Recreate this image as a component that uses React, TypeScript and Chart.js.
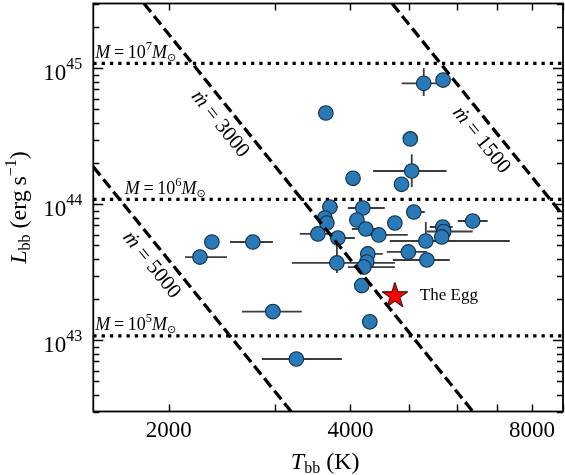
import React, { useEffect, useRef } from 'react';
import { Chart, registerables } from 'chart.js';

Chart.register(...registerables);

// ---------------- data ----------------
const tempK = [
  5291, 5696, 3642, 5026, 5054, 4861, 4040, 3699, 4194, 5094,
  3628, 3656, 4100, 4739, 6377, 5689, 5710, 5667, 5333, 4242,
  3533, 4458, 3813, 3799, 4274, 4258, 4210, 4178, 4307, 4989,
  5354, 2358, 2757, 2253, 2976, 3254,
];
const lumErg = [
  7.77e44, 8.21e44, 4.70e44, 3.03e44, 1.76e44, 1.405e44, 1.555e44, 9.57e43, 9.41e43, 8.79e43,
  7.94e43, 7.30e43, 7.68e43, 7.30e43, 7.55e43, 6.82e43, 6.32e43, 5.76e43, 5.38e43, 6.59e43,
  6.06e43, 5.96e43, 5.66e43, 3.71e43, 4.32e43, 3.77e43, 3.46e43, 2.53e43, 1.37e43, 4.47e43,
  3.90e43, 5.29e43, 5.29e43, 4.10e43, 1.63e43, 7.30e42,
];
const tempLow: (number | null)[] = [
  4861, null, null, null, 4362, null, null, 3601, 3961, 4960,
  null, null, null, null, 6025, 5414, 5354, null, 4649, 4022,
  3298, 4226, 3699, 3199, 4178, null, 3961, null, null, 4596,
  4702, null, 2526, 2128, 2644, 2853,
];
const tempHigh: (number | null)[] = [
  5754, null, null, null, 5770, null, null, 3813, 4560, 5313,
  null, null, null, null, 6753, 5909, 6377, null, 7345, 4400,
  3771, 4979, 4069, 4739, 4525, null, 4739, null, null, 5354,
  5843, null, 2976, 2497, 3323, 3872,
];
const lumLow: (number | null)[] = [
  6.27e44, null, null, null, 1.34e44, null, null, null, null, null,
  null, null, null, null, null, null, null, null, 4.78e43, null,
  null, null, null, 3.13e43, null, null, null, null, null, null,
  null, null, null, null, null, null,
];
const lumHigh: (number | null)[] = [
  1.007e45, null, null, null, 2.34e44, null, null, null, null, null,
  null, null, null, null, null, null, null, null, 7.42e43, null,
  null, null, null, 5.33e43, null, null, null, null, null, null,
  null, null, null, null, null, null,
];

const eggTemp = [4739];
const eggLum = [2.16e43];
const eggName = 'The Egg';

const massLevels = [1.09e45, 1.09e44, 1.08e43];
const massExponents = ['7', '6', '5'];

const mdotNames = ['3000', '1500', '5000'];
const mdotTemp = [[1820, 6380], [4690, 9000], [1500, 3190]];
const mdotLum = [[3e45, 3e42], [3e45, 8.3e43], [1.89e44, 3e42]];

const xMin = 1500;
const xMax = 9000;
const yMin = 3e42;
const yMax = 3e45;
const xTickValues = [2000, 3000, 4000, 5000, 6000, 7000, 8000, 9000];
const xTickLabels = [2000, 4000, 8000];
const yMajorExponents = [43, 44, 45];

// ---------------- styling helpers ----------------
const SERIF = "'Liberation Serif','Times New Roman','DejaVu Serif',serif";
type Run = { t: string; size: number; italic?: boolean; dy?: number; font?: string };

function setFont(ctx: CanvasRenderingContext2D, r: Run) {
  ctx.font = `${r.italic ? 'italic ' : ''}${r.size}px ${r.font || SERIF}`;
}
function runsWidth(ctx: CanvasRenderingContext2D, runs: Run[]) {
  let w = 0;
  for (const r of runs) {
    setFont(ctx, r);
    w += ctx.measureText(r.t).width;
  }
  return w;
}
function drawRuns(ctx: CanvasRenderingContext2D, runs: Run[], x: number, y: number, align: 'left' | 'center' | 'right') {
  const w = runsWidth(ctx, runs);
  let cx = align === 'left' ? x : align === 'center' ? x - w / 2 : x - w;
  ctx.textAlign = 'left';
  ctx.textBaseline = 'alphabetic';
  for (const r of runs) {
    setFont(ctx, r);
    ctx.fillText(r.t, cx, y + (r.dy || 0));
    cx += ctx.measureText(r.t).width;
  }
}

function makeStar(): HTMLCanvasElement {
  const c = document.createElement('canvas');
  const s = 30;
  c.width = s;
  c.height = s;
  const g = c.getContext('2d')!;
  const R = 13.5;
  const r = R * 0.382;
  g.beginPath();
  for (let i = 0; i < 10; i++) {
    const rad = i % 2 === 0 ? R : r;
    const a = -Math.PI / 2 + (i * Math.PI) / 5;
    const px = s / 2 + rad * Math.cos(a);
    const py = s / 2 + 1 + rad * Math.sin(a);
    if (i === 0) g.moveTo(px, py);
    else g.lineTo(px, py);
  }
  g.closePath();
  g.fillStyle = '#ff0000';
  g.fill();
  g.lineWidth = 1;
  g.strokeStyle = '#000000';
  g.stroke();
  return c;
}

const decorPlugin = {
  id: 'decor',
  beforeDatasetsDraw(chart: any) {
    const { ctx, chartArea: a } = chart;
    const xs = chart.scales.x;
    const ys = chart.scales.y;
    ctx.save();
    ctx.beginPath();
    ctx.rect(a.left, a.top, a.right - a.left, a.bottom - a.top);
    ctx.clip();
    ctx.strokeStyle = '#3c3c3c';
    ctx.lineWidth = 1.8;
    for (let i = 0; i < tempK.length; i++) {
      const px = xs.getPixelForValue(tempK[i]);
      const py = ys.getPixelForValue(lumErg[i]);
      const lo = tempLow[i];
      const hi = tempHigh[i];
      if (lo !== null && hi !== null) {
        ctx.beginPath();
        ctx.moveTo(xs.getPixelForValue(lo), py);
        ctx.lineTo(xs.getPixelForValue(hi), py);
        ctx.stroke();
      }
      const llo = lumLow[i];
      const lhi = lumHigh[i];
      if (llo !== null && lhi !== null) {
        ctx.beginPath();
        ctx.moveTo(px, ys.getPixelForValue(llo));
        ctx.lineTo(px, ys.getPixelForValue(lhi));
        ctx.stroke();
      }
    }
    ctx.restore();
  },
  afterDraw(chart: any) {
    const { ctx, chartArea: a } = chart;
    const xs = chart.scales.x;
    const ys = chart.scales.y;
    ctx.save();
    ctx.fillStyle = '#000';
    ctx.strokeStyle = '#000';

    // ticks (inward)
    ctx.lineWidth = 1.4;
    ctx.beginPath();
    for (const v of xTickValues) {
      const px = Math.round(xs.getPixelForValue(v)) + 0.5;
      ctx.moveTo(px, a.bottom);
      ctx.lineTo(px, a.bottom - 7);
      ctx.moveTo(px, a.top);
      ctx.lineTo(px, a.top + 7);
    }
    for (let e = 42; e <= 45; e++) {
      for (let m = 1; m <= 9; m++) {
        const v = m * Math.pow(10, e);
        if (v < yMin * 0.999 || v > yMax * 1.001) continue;
        const py = Math.round(ys.getPixelForValue(v)) + 0.5;
        const len = m === 1 ? 10 : 6;
        ctx.moveTo(a.left, py);
        ctx.lineTo(a.left + len, py);
        ctx.moveTo(a.right, py);
        ctx.lineTo(a.right - len, py);
      }
    }
    ctx.stroke();

    // frame
    ctx.lineWidth = 1.8;
    ctx.strokeRect(a.left, a.top, a.right - a.left, a.bottom - a.top);

    // x tick labels
    for (const v of xTickLabels) {
      drawRuns(ctx, [{ t: String(v), size: 23 }], xs.getPixelForValue(v), a.bottom + 25, 'center');
    }
    // y tick labels
    for (const e of yMajorExponents) {
      const py = ys.getPixelForValue(Math.pow(10, e));
      drawRuns(ctx, [{ t: '10', size: 23 }, { t: String(e), size: 16, dy: -11 }], a.left - 11, py + 11.5, 'right');
    }

    // axis titles
    drawRuns(
      ctx,
      [{ t: 'T', size: 24, italic: true }, { t: 'bb', size: 16, dy: 4 }, { t: ' (K)', size: 24 }],
      (a.left + a.right) / 2 - 3,
      a.bottom + 57,
      'center'
    );
    ctx.save();
    ctx.translate(26, (a.top + a.bottom) / 2);
    ctx.rotate(-Math.PI / 2);
    drawRuns(
      ctx,
      [
        { t: 'L', size: 24, italic: true },
        { t: 'bb', size: 16, dy: 4 },
        { t: ' (erg\u2009s', size: 24 },
        { t: '\u22121', size: 16, dy: -10 },
        { t: ')', size: 24 },
      ],
      0,
      0,
      'center'
    );
    ctx.restore();

    // mass labels
    const massLabelX = [a.left + 2, xs.getPixelForValue(1692), a.left + 2];
    massLevels.forEach((lv, i) => {
      const py = ys.getPixelForValue(lv);
      drawRuns(
        ctx,
        [
          { t: 'M', size: 18, italic: true },
          { t: '\u2009=\u200910', size: 18 },
          { t: massExponents[i], size: 12.5, dy: -8 },
          { t: 'M', size: 18, italic: true },
          { t: '\u2299', size: 11, dy: 3, font: "'DejaVu Sans',sans-serif" },
        ],
        massLabelX[i],
        py - 5.5,
        'left'
      );
    });

    // mdot labels along lines
    const mdotFrac = [0.27, 0.596, 0.359];
    mdotNames.forEach((name, i) => {
      const x1 = xs.getPixelForValue(mdotTemp[i][0]);
      const y1 = ys.getPixelForValue(mdotLum[i][0]);
      const x2 = xs.getPixelForValue(mdotTemp[i][1]);
      const y2 = ys.getPixelForValue(mdotLum[i][1]);
      const ang = Math.atan2(y2 - y1, x2 - x1);
      const f = mdotFrac[i];
      const fx = x1 + (x2 - x1) * f;
      const fy = y1 + (y2 - y1) * f;
      const d = 15;
      const cx = fx - d * Math.sin(ang);
      const cy = fy + d * Math.cos(ang);
      ctx.save();
      ctx.translate(cx, cy);
      ctx.rotate(ang);
      drawRuns(ctx, [{ t: '\u1E41', size: 21, italic: true }, { t: ' = ' + name, size: 21 }], 0, 7, 'center');
      ctx.restore();
    });

    // egg label
    const ex = xs.getPixelForValue(eggTemp[0]);
    const ey = ys.getPixelForValue(eggLum[0]);
    drawRuns(ctx, [{ t: eggName, size: 17 }], ex + 25, ey + 5, 'left');

    ctx.restore();
  },
};

export default function App() {
  const ref = useRef<HTMLCanvasElement | null>(null);
  useEffect(() => {
    if (!ref.current) return;
    const star = makeStar();
    const datasets: any[] = [];
    datasets.push({
      type: 'scatter',
      data: eggTemp.map((t, i) => ({ x: t, y: eggLum[i] })),
      pointStyle: star,
      pointRadius: 15,
      order: 0,
    });
    mdotNames.forEach((_, i) => {
      datasets.push({
        type: 'line',
        data: mdotTemp[i].map((t, j) => ({ x: t, y: mdotLum[i][j] })),
        borderColor: '#000',
        borderWidth: 3.3,
        borderDash: [11, 5],
        borderCapStyle: 'butt',
        pointRadius: 0,
        tension: 0,
        fill: false,
        order: 1,
      });
    });
    datasets.push({
      type: 'scatter',
      data: tempK.map((t, i) => ({ x: t, y: lumErg[i] })),
      pointRadius: 7.3,
      backgroundColor: '#2a7ab8',
      borderColor: '#0f2e4a',
      borderWidth: 1.1,
      order: 2,
    });
    massLevels.forEach((lv) => {
      datasets.push({
        type: 'line',
        data: [{ x: xMin, y: lv }, { x: xMax, y: lv }],
        borderColor: '#000',
        borderWidth: 3.3,
        borderDash: [3.3, 5],
        borderCapStyle: 'butt',
        pointRadius: 0,
        fill: false,
        order: 3,
      });
    });

    const chart = new Chart(ref.current, {
      type: 'scatter',
      data: { datasets },
      options: {
        animation: false,
        responsive: true,
        maintainAspectRatio: false,
        devicePixelRatio: 1,
        events: [],
        layout: { autoPadding: false, padding: { left: 93.3, right: 2, top: 3.5, bottom: 63.5 } },
        plugins: { legend: { display: false }, tooltip: { enabled: false } },
        scales: {
          x: { type: 'logarithmic', min: xMin, max: xMax, display: false },
          y: { type: 'logarithmic', min: yMin, max: yMax, display: false },
        },
      },
      plugins: [decorPlugin],
    } as any);
    return () => chart.destroy();
  }, []);

  return (
    <div style={{ position: 'fixed', left: 0, top: 0, width: 565, height: 475, background: '#fff' }}>
      <canvas ref={ref} />
    </div>
  );
}
